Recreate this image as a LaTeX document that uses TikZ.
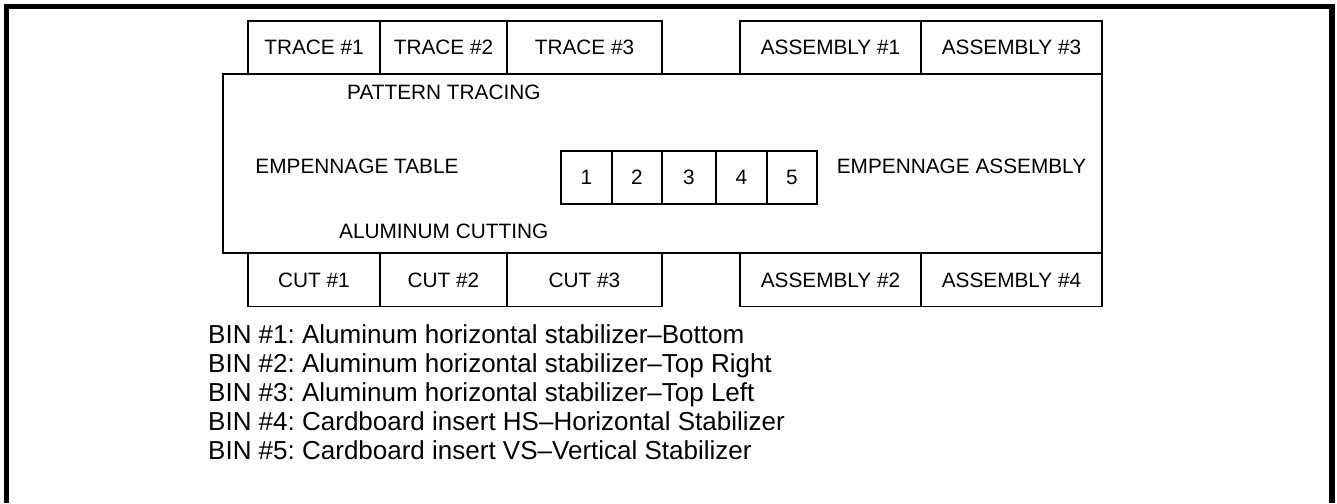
\documentclass[tikz,border=0pt]{standalone}
\usepackage{fontspec}
\setmainfont{Liberation Sans}
\frenchspacing
\newcommand\lblfont{\fontsize{20.8}{24}\selectfont}
\newcommand\binfont{\fontsize{26}{29}\selectfont}
\begin{document}
\begin{tikzpicture}[x=1pt,y=-1pt,
  cellbox/.style={draw, line width=1.7pt, inner sep=0pt, font=\lblfont, minimum height=53pt},
  numbox/.style={draw, line width=1.7pt, inner sep=0pt, font=\lblfont, minimum height=53.3pt},
  tablebox/.style={draw, line width=2pt, inner sep=0pt},
  lbl/.style={inner sep=0pt, font=\lblfont},
  bin/.style={anchor=base west, inner sep=0pt, font=\binfont}]
\useasboundingbox (0,0) rectangle (1337,503);
% outer frame (open at the bottom)
\draw[line width=5.5pt] (6.5,503) -- (6.5,6.5) -- (1332,6.5) -- (1332,503);
% main table
\node[tablebox, minimum width=879.5pt, minimum height=179.3pt] (table) at (662.25,163.65) {};
% top row
\node[cellbox, minimum width=132pt] (t1) at (314,47.5) {TRACE \#1};
\node[cellbox, minimum width=127pt] (t2) at (443.5,47.5) {TRACE \#2};
\node[cellbox, minimum width=155pt] (t3) at (584.5,47.5) {TRACE \#3};
\node[cellbox, minimum width=181pt] (a1) at (830.5,47.5) {ASSEMBLY \#1};
\node[cellbox, minimum width=181pt] (a3) at (1011.5,47.5) {ASSEMBLY \#3};
% bottom row
\node[cellbox, minimum width=132pt] (c1) at (314,280) {CUT \#1};
\node[cellbox, minimum width=127pt] (c2) at (443.5,280) {CUT \#2};
\node[cellbox, minimum width=155pt] (c3) at (584.5,280) {CUT \#3};
\node[cellbox, minimum width=181pt] (a2) at (830.5,280) {ASSEMBLY \#2};
\node[cellbox, minimum width=181pt] (a4) at (1011.5,280) {ASSEMBLY \#4};
% bins
\node[numbox, minimum width=51pt] (n1) at (586.5,177.4) {1};
\node[numbox, minimum width=50pt] (n2) at (637,177.4) {2};
\node[numbox, minimum width=54pt] (n3) at (689,177.4) {3};
\node[numbox, minimum width=51pt] (n4) at (741.5,177.4) {4};
\node[numbox, minimum width=49.7pt] (n5) at (791.85,177.4) {5};
% labels inside the table
\node[lbl] (pt) at (443.9,92) {PATTERN TRACING};
\node[lbl] (et) at (357,166) {EMPENNAGE TABLE};
\node[lbl] (ac) at (443.7,231.7) {ALUMINUM CUTTING};
\node[lbl] (ea) at (961.5,166) {EMPENNAGE ASSEMBLY};
% legend
\node[bin] (b1) at (208,343.5) {BIN \#1: Aluminum horizontal stabilizer–Bottom};
\node[bin] (b2) at (208,372.5) {BIN \#2: Aluminum horizontal stabilizer–Top Right};
\node[bin] (b3) at (208,401.5) {BIN \#3: Aluminum horizontal stabilizer–Top Left};
\node[bin] (b4) at (208,430.5) {BIN \#4: Cardboard insert HS–Horizontal Stabilizer};
\node[bin] (b5) at (208,459.5) {BIN \#5: Cardboard insert VS–Vertical Stabilizer};
\end{tikzpicture}
\end{document}
